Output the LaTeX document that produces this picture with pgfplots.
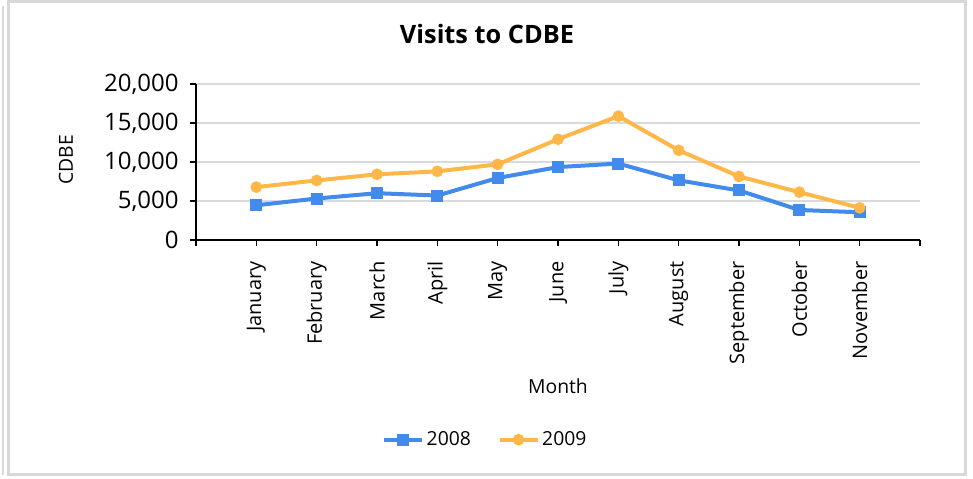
\documentclass[border=0pt]{standalone}
\usepackage{fontspec}
\setmainfont{Open Sans}
\usepackage{pgfplots}
\pgfplotsset{compat=1.18}
\definecolor{cblue}{RGB}{66,139,237}
\definecolor{corange}{RGB}{255,183,72}
\definecolor{gridgray}{RGB}{218,218,218}
\definecolor{framegray}{RGB}{216,216,216}
\begin{document}
\begin{tikzpicture}[x=0.75pt,y=0.75pt]
\useasboundingbox (0,0) rectangle (973,478);
\draw[framegray, line width=2.25pt] (8.5,4) rectangle (965,476);
\draw[framegray, line width=1.5pt] (2.5,3) -- (2.5,472);
\node[font=\bfseries\fontsize{19}{22}\selectfont] at (487,444) {Visits to CDBE};
\node[rotate=90, font=\fontsize{14.5}{16}\selectfont] at (66,318) {CDBE};
\node[font=\fontsize{14.5}{16}\selectfont] at (558,92) {Month};
\begin{axis}[
  at={(147pt,178.5pt)}, anchor=south west, scale only axis,
  width=543pt, height=117pt,
  xmin=-1, xmax=11, ymin=0, ymax=20000,
  axis x line*=bottom, axis y line*=left,
  axis line style={line width=1.5pt, black},
  xtick={-1,0,1,2,3,4,5,6,7,8,9,10,11},
  xticklabels={{},January,February,March,April,May,June,July,August,September,October,November,{}},
  x tick label style={rotate=90, anchor=east, xshift=-8pt, font=\fontsize{15}{17}\selectfont},
  ytick={0,5000,10000,15000,20000},
  y tick label style={xshift=-5pt, font=\fontsize{18}{20}\selectfont},
  /pgf/number format/.cd, 1000 sep={,}, assume math mode=true, /pgfplots/.cd,
  scaled y ticks=false,
  ymajorgrids, grid style={gridgray, line width=2pt},
  tick align=outside, major tick length=4.5pt,
  tick style={black, line width=1pt},
  legend style={at={(0.40,-1.28)}, anchor=center, draw=none, legend columns=2,
    font=\fontsize{14.5}{17}\selectfont,
    /tikz/every even column/.append style={column sep=18pt}},
  legend image code/.code={\draw[mark repeat=2,mark phase=2] plot coordinates {(0cm,0cm)(0.5cm,0cm)(1cm,0cm)};},
]
\addplot[cblue, line width=3pt, mark=square*, mark size=3pt, mark options={solid}] coordinates {
(0,4450) (1,5320) (2,6000) (3,5700) (4,7950) (5,9350) (6,9800) (7,7650) (8,6350) (9,3850) (10,3550)};
\addlegendentry{2008}
\addplot[corange, line width=3pt, mark=*, mark size=2.8pt, mark options={solid}] coordinates {
(0,6780) (1,7640) (2,8420) (3,8800) (4,9700) (5,12920) (6,15880) (7,11500) (8,8150) (9,6130) (10,4120)};
\addlegendentry{2009}
\end{axis}
\end{tikzpicture}
\end{document}
